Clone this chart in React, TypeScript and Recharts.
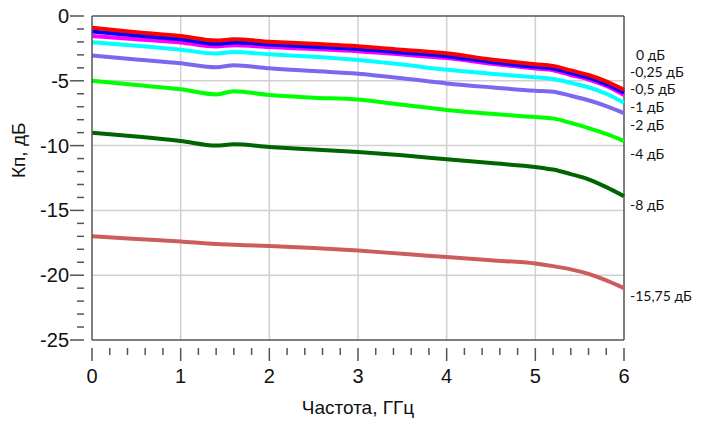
import React from "react";
import {
  LineChart,
  Line,
  XAxis,
  YAxis,
  CartesianGrid,
  ReferenceLine,
} from "recharts";

// frequency, GHz
const freq = [0, 0.5, 1, 1.4, 1.6, 2, 2.5, 3, 3.5, 4, 4.5, 5, 5.2, 5.4, 5.6, 5.8, 6];

// transfer coefficient, dB, one list per attenuator state
const att0 = [-0.9, -1.25, -1.55, -1.9, -1.8, -1.98, -2.15, -2.33, -2.6, -2.88, -3.35, -3.72, -3.85, -4.2, -4.55, -5.05, -5.7];
const att025 = [-1.2, -1.5, -1.8, -2.15, -2.05, -2.2, -2.38, -2.55, -2.82, -3.1, -3.55, -3.92, -4.05, -4.4, -4.75, -5.25, -5.9];
const att05 = [-1.55, -1.8, -2.05, -2.35, -2.25, -2.4, -2.55, -2.72, -2.98, -3.25, -3.68, -4.05, -4.18, -4.55, -4.9, -5.4, -6.1];
const att1 = [-2.03, -2.3, -2.6, -2.9, -2.78, -2.96, -3.15, -3.4, -3.75, -4.15, -4.45, -4.73, -4.86, -5.15, -5.5, -6.0, -6.7];
const att2 = [-3.05, -3.35, -3.65, -3.96, -3.8, -4.04, -4.25, -4.45, -4.8, -5.2, -5.5, -5.76, -5.84, -6.15, -6.5, -6.95, -7.5];
const att4 = [-5.0, -5.33, -5.66, -6.05, -5.8, -6.1, -6.3, -6.45, -6.85, -7.25, -7.55, -7.8, -7.9, -8.25, -8.65, -9.1, -9.65];
const att8 = [-9.0, -9.3, -9.65, -10.0, -9.9, -10.1, -10.3, -10.5, -10.75, -11.05, -11.35, -11.65, -11.85, -12.2, -12.6, -13.2, -13.9];
const att1575 = [-17.0, -17.2, -17.4, -17.6, -17.65, -17.75, -17.9, -18.1, -18.35, -18.6, -18.85, -19.1, -19.3, -19.55, -19.9, -20.4, -21.0];

const xTicks = [0, 0.2, 0.4, 0.6, 0.8, 1, 1.2, 1.4, 1.6, 1.8, 2, 2.2, 2.4, 2.6, 2.8, 3, 3.2, 3.4, 3.6, 3.8, 4, 4.2, 4.4, 4.6, 4.8, 5, 5.2, 5.4, 5.6, 5.8, 6];
const yTicks = [0, -1, -2, -3, -4, -5, -6, -7, -8, -9, -10, -11, -12, -13, -14, -15, -16, -17, -18, -19, -20, -21, -22, -23, -24, -25];
const xGrid = [1, 2, 3, 4, 5];
const yGrid = [-5, -10, -15, -20];

const series = [
  { key: "a1575", values: att1575, color: "#cd5c5c", label: "-15,75 дБ", labelY: 296 },
  { key: "a8", values: att8, color: "#006400", label: "-8 дБ", labelY: 205 },
  { key: "a4", values: att4, color: "#00ff00", label: "-4 дБ", labelY: 154 },
  { key: "a2", values: att2, color: "#7b68ee", label: "-2 дБ", labelY: 125 },
  { key: "a1", values: att1, color: "#00ffff", label: "-1 дБ", labelY: 107 },
  { key: "a05", values: att05, color: "#ff00ff", label: "-0,5 дБ", labelY: 89 },
  { key: "a025", values: att025, color: "#0000ff", label: "-0,25 дБ", labelY: 72 },
  { key: "a0", values: att0, color: "#ff0000", label: "0 дБ", labelY: 55 },
];

const data = freq.map((f, i) => {
  const row: Record<string, number> = { f };
  series.forEach((s) => (row[s.key] = s.values[i]));
  return row;
});

const axisColor = "#555";
const tickFont = "'Liberation Sans', Arial, sans-serif";

const YTick = (props: any) => {
  const { x, y, payload } = props;
  const v = payload.value;
  const major = v % 5 === 0;
  return (
    <g>
      <line x1={x - (major ? 14 : 7)} x2={x} y1={y} y2={y} stroke={axisColor} strokeWidth={1.5} />
      {major && (
        <text x={x - 15} y={y} dy={7} textAnchor="end" fontSize={20} fill="#111" fontFamily={tickFont}>
          {v}
        </text>
      )}
    </g>
  );
};

const XTick = (props: any) => {
  const { x, y, payload } = props;
  const v = payload.value;
  const major = Math.abs(v - Math.round(v)) < 1e-6;
  return (
    <g>
      <line x1={x} x2={x} y1={y} y2={y + (major ? 13 : 7)} stroke={axisColor} strokeWidth={1.5} />
      {major && (
        <text x={x} y={y + 35} textAnchor="middle" fontSize={20} fill="#111" fontFamily={tickFont}>
          {Math.round(v)}
        </text>
      )}
    </g>
  );
};

export default function App() {
  return (
    <div style={{ position: "absolute", left: 0, top: 0, width: 707, height: 422, background: "#fff" }}>
      <LineChart
        width={707}
        height={422}
        data={data}
        margin={{ top: 16, right: 83, bottom: 0, left: 0 }}
      >
        <CartesianGrid
          stroke="#d0d0d0"
          strokeWidth={1.5}
          verticalValues={xGrid}
          horizontalValues={yGrid}
        />
        <XAxis
          dataKey="f"
          type="number"
          domain={[0, 6]}
          ticks={xTicks}
          interval={0}
          height={82}
          tickLine={false}
          axisLine={{ stroke: axisColor, strokeWidth: 1.5 }}
          tick={<XTick />}
          label={{
            value: "Частота, ГГц",
            position: "insideBottom",
            offset: 8,
            fontSize: 19,
            fill: "#111",
            fontFamily: tickFont,
          }}
        />
        <YAxis
          type="number"
          domain={[-25, 0]}
          ticks={yTicks}
          interval={0}
          width={92}
          tickLine={false}
          axisLine={{ stroke: axisColor, strokeWidth: 1.5 }}
          tick={<YTick />}
          label={{
            value: "Кп, дБ",
            angle: -90,
            position: "insideLeft",
            offset: 18,
            fontSize: 19,
            fill: "#111",
            fontFamily: tickFont,
          }}
        />
        <ReferenceLine y={0} stroke={axisColor} strokeWidth={1.5} />
        <ReferenceLine x={6} stroke={axisColor} strokeWidth={1.5} />
        {series.map((s) => (
          <Line
            key={s.key}
            dataKey={s.key}
            type="monotone"
            stroke={s.color}
            strokeWidth={4}
            dot={false}
            isAnimationActive={false}
          />
        ))}
      </LineChart>
      {series.map((s) => (
        <div
          key={s.key + "-label"}
          style={{
            position: "absolute",
            left: s.label === "0 дБ" ? 636 : 630,
            top: s.labelY - 7,
            fontFamily: "Lato, sans-serif",
            fontSize: 14,
            lineHeight: "14px",
            color: "#111",
            whiteSpace: "nowrap",
          }}
        >
          {s.label}
        </div>
      ))}
    </div>
  );
}
